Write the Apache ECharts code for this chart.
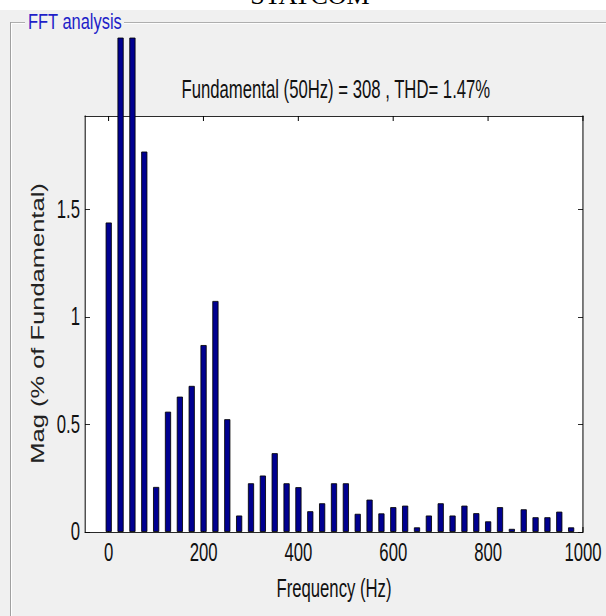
<!DOCTYPE html>
<html>
<head>
<meta charset="utf-8">
<script src="https://cdn.jsdelivr.net/npm/echarts@6/dist/echarts.min.js"></script>
<style>
html,body{margin:0;padding:0;overflow:hidden;background:#ffffff;width:606px;height:616px;}
#chart{width:907px;height:616px;transform:scaleX(0.668137);transform-origin:0 0;}
</style>
</head>
<body>
<div id="chart"></div>
<script>
// ---- data ----
const frequencies = [0, 25, 50, 75, 100, 125, 150, 175, 200, 225, 250, 275, 300, 325, 350, 375,
  400, 425, 450, 475, 500, 525, 550, 575, 600, 625, 650, 675, 700, 725, 750, 775,
  800, 825, 850, 875, 900, 925, 950, 975];
const magnitudes = [1.44, 2.30, 2.30, 1.77, 0.21, 0.56, 0.63, 0.68, 0.87, 1.075, 0.525, 0.077, 0.227, 0.263, 0.367, 0.227,
  0.209, 0.097, 0.134, 0.227, 0.227, 0.085, 0.151, 0.087, 0.116, 0.123, 0.022, 0.077, 0.134, 0.077, 0.123, 0.088,
  0.05, 0.116, 0.015, 0.106, 0.069, 0.069, 0.095, 0.022];
const xTickValues = [0, 200, 400, 600, 800, 1000];
const yTickValues = [0, 0.5, 1, 1.5];
const titleText = 'Fundamental (50Hz) = 308 , THD= 1.47%';
const xName = 'Frequency (Hz)';
const yName = 'Mag (% of Fundamental)';
const panelName = 'FFT analysis';
const pageHeading = 'STATCOM';

// ---- layout helpers ----
const W = 907, H = 616, K = 606 / 907;
const px = v => v / K;           // final horizontal pixels -> drawing space
const FONT = "'Liberation Sans', Arial, Helvetica, sans-serif";
const TXT = '#111111';

const chart = echarts.init(document.getElementById('chart'), null, {renderer: 'svg', width: W, height: H});

const axisCommon = {
  type: 'value',
  splitLine: {show: false}
};
const plainNum = v => String(v);

chart.setOption({
  animation: false,
  backgroundColor: '#f0f0f0',
  title: {
    text: titleText,
    left: px(332.5),
    top: 72,
    textAlign: 'center',
    textStyle: {fontFamily: FONT, fontSize: 25, fontWeight: 'normal', color: TXT}
  },
  grid: {
    left: px(85), right: W - px(583), top: 116, bottom: 84,
    show: true, backgroundColor: '#ffffff', borderWidth: 0
  },
  xAxis: [
    Object.assign({}, axisCommon, {
      position: 'bottom', min: -50, max: 1000,
      axisLine: {show: true, onZero: false, lineStyle: {color: '#000', width: 1}},
      axisTick: {show: true, inside: true, length: 5, customValues: xTickValues, lineStyle: {color: '#000', width: 1 / K}},
      axisLabel: {show: true, customValues: xTickValues, formatter: plainNum, margin: 8, fontFamily: FONT, fontSize: 25, color: TXT},
      name: xName, nameLocation: 'middle', nameGap: 44,
      nameTextStyle: {fontFamily: FONT, fontSize: 25, color: TXT}
    }),
    Object.assign({}, axisCommon, {
      position: 'top', min: -50, max: 1000,
      axisLine: {show: true, onZero: false, lineStyle: {color: '#000', width: 1}},
      axisTick: {show: true, inside: true, length: 5, customValues: xTickValues, lineStyle: {color: '#000', width: 1 / K}},
      axisLabel: {show: false}
    })
  ],
  yAxis: [
    Object.assign({}, axisCommon, {
      position: 'left', min: 0, max: 1.935,
      axisLine: {show: true, onZero: false, lineStyle: {color: '#000', width: 1 / K}},
      axisTick: {show: true, inside: true, length: px(5), customValues: yTickValues, lineStyle: {color: '#000', width: 1}},
      axisLabel: {show: true, customValues: yTickValues, formatter: plainNum, margin: px(5), fontFamily: FONT, fontSize: 25, color: TXT}
    }),
    Object.assign({}, axisCommon, {
      position: 'right', min: 0, max: 1.935,
      axisLine: {show: true, onZero: false, lineStyle: {color: '#000', width: 1 / K}},
      axisTick: {show: true, inside: true, length: px(5), customValues: yTickValues, lineStyle: {color: '#000', width: 1}},
      axisLabel: {show: false}
    })
  ],
  series: [{
    type: 'bar',
    xAxisIndex: 0, yAxisIndex: 0,
    data: frequencies.map((f, i) => [f, magnitudes[i]]),
    barWidth: px(6),
    clip: false,
    itemStyle: {color: '#000090', borderColor: '#000000', borderWidth: 1}
  }],
  graphic: [
    {type: 'rect', z: -10, shape: {x: 0, y: 0, width: W, height: 10}, style: {fill: '#ffffff'}},
    {type: 'text', z: -5, x: px(310), y: 8, scaleX: 1 / K,
      style: {text: pageHeading, font: "26px 'Liberation Serif', 'Times New Roman', serif", fill: '#000', textAlign: 'center', textVerticalAlign: 'bottom'}},
    // group box etched border
    {type: 'line', shape: {x1: px(10), y1: 22.5, x2: px(25), y2: 22.5}, style: {stroke: '#a0a0a0', lineWidth: 1}},
    {type: 'line', shape: {x1: px(124), y1: 22.5, x2: W, y2: 22.5}, style: {stroke: '#a0a0a0', lineWidth: 1}},
    {type: 'line', shape: {x1: px(11), y1: 23.5, x2: px(25), y2: 23.5}, style: {stroke: '#ffffff', lineWidth: 1}},
    {type: 'line', shape: {x1: px(124), y1: 23.5, x2: W, y2: 23.5}, style: {stroke: '#ffffff', lineWidth: 1}},
    {type: 'line', shape: {x1: px(10.5), y1: 22, x2: px(10.5), y2: H}, style: {stroke: '#a0a0a0', lineWidth: 1 / K}},
    {type: 'line', shape: {x1: px(11.5), y1: 23, x2: px(11.5), y2: H}, style: {stroke: '#ffffff', lineWidth: 1 / K}},
    {type: 'text', x: px(28), y: 21.5, scaleX: 1.12,
      style: {text: panelName, font: '22px ' + FONT, fill: '#1e1ec8', textAlign: 'left', textVerticalAlign: 'middle'}},
    // y-axis name
    {type: 'text', x: px(37.5), y: 323.5, rotation: Math.PI / 2, scaleY: 1.12,
      style: {text: yName, font: '25.5px ' + FONT, fill: '#222222', textAlign: 'center', textVerticalAlign: 'middle'}}
  ]
});
</script>
</body>
</html>
